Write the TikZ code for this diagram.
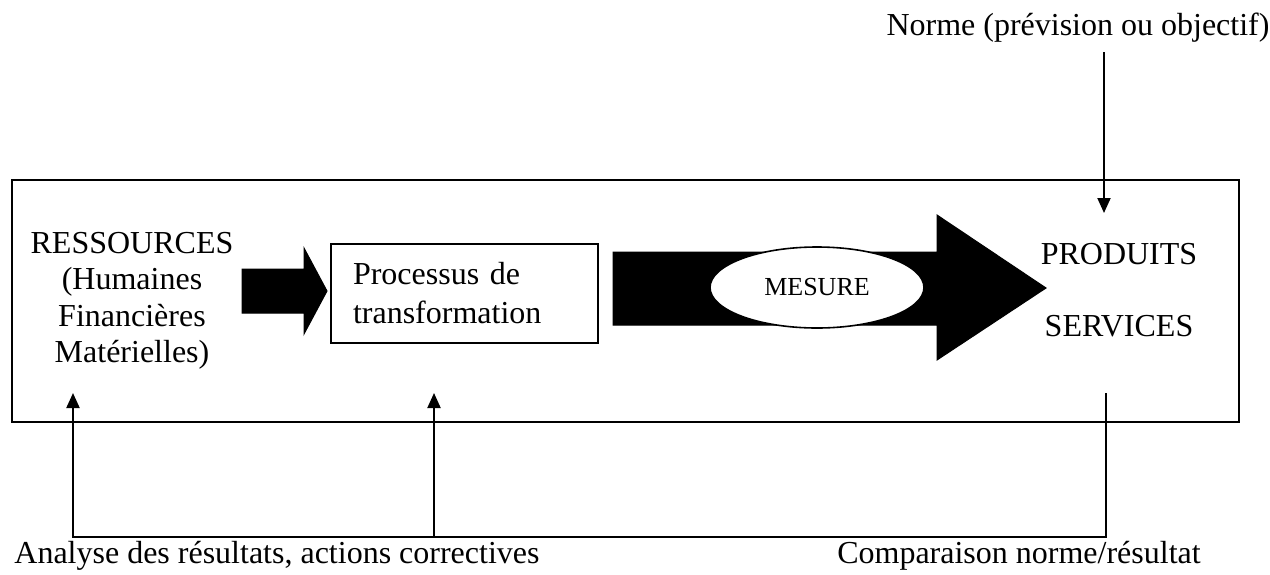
\documentclass[tikz,border=0pt]{standalone}
\usepackage{fontspec}
\setmainfont{Liberation Serif}
\usetikzlibrary{arrows.meta,shapes.geometric,positioning}

\tikzset{
	txt/.style={inner sep=0pt, font=\fontsize{16}{18.25}\selectfont},
	fleche/.style={line width=1pt, ->},
	grosse/.style={fill=black, draw=black, line width=0.5pt, line join=miter},
	>={Triangle[length=7.5pt,width=6.5pt]}
}

\begin{document}
\begin{tikzpicture}[x=0.5pt,y=-0.5pt]
					\useasboundingbox (0,0) rectangle (1270,574);

					\draw[line width=0.8pt] (12,180) rectangle (1239,422);

					\node[txt, anchor=base] (norme) at (1078,35) {Norme (prévision ou objectif)};
					\coordinate (hautN) at (1104,52);
					\coordinate (pointeN) at (1104,213);
					\draw[fleche] (hautN) -- (pointeN);

					\node[txt, align=center] (ressources) at (132,301) {RESSOURCES\\(Humaines\\Financières\\Matérielles)};

					\draw[grosse] (242,269) -- (304,269) -- (304,248) -- (327,291) -- (304,334) -- (304,313) -- (242,313) -- cycle;

					\node[txt, draw, line width=0.75pt, inner xsep=11pt, text width=111.5pt, minimum height=49.5pt, align=left, font=\fontsize{16}{19.5}\selectfont] (processus) at (464.5,293.5) {Processus de\\transformation};

					\draw[grosse] (613,252) -- (937,252) -- (937,215) -- (1046,288) -- (937,360) -- (937,325) -- (613,325) -- cycle;

					\node[ellipse, draw, fill=white, line width=0.8pt, minimum width=107pt, minimum height=40.5pt, inner sep=0pt, font=\fontsize{13}{15}\selectfont] (mesure) at (817,287.5) {MESURE};

					\node[txt, anchor=base] (produits) at (1119,264) {PRODUITS};
					\node[txt, anchor=base] (services) at (1119,336) {SERVICES};

					\coordinate (depart) at (1106,393);
					\coordinate (coin) at (1106,537);
					\coordinate (cibleR) at (73,393);
					\coordinate (cibleP) at (434,393);
					\draw[fleche] (depart) -- (coin) -- (coin -| cibleR) -- (cibleR);
					\draw[fleche] (coin -| cibleP) -- (cibleP);

					\node[txt, anchor=base west] (analyse) at (14,563) {Analyse des résultats, actions correctives};
					\node[txt, anchor=base] (comparaison) at (1019,563) {Comparaison norme/résultat};
				\end{tikzpicture}
\end{document}
